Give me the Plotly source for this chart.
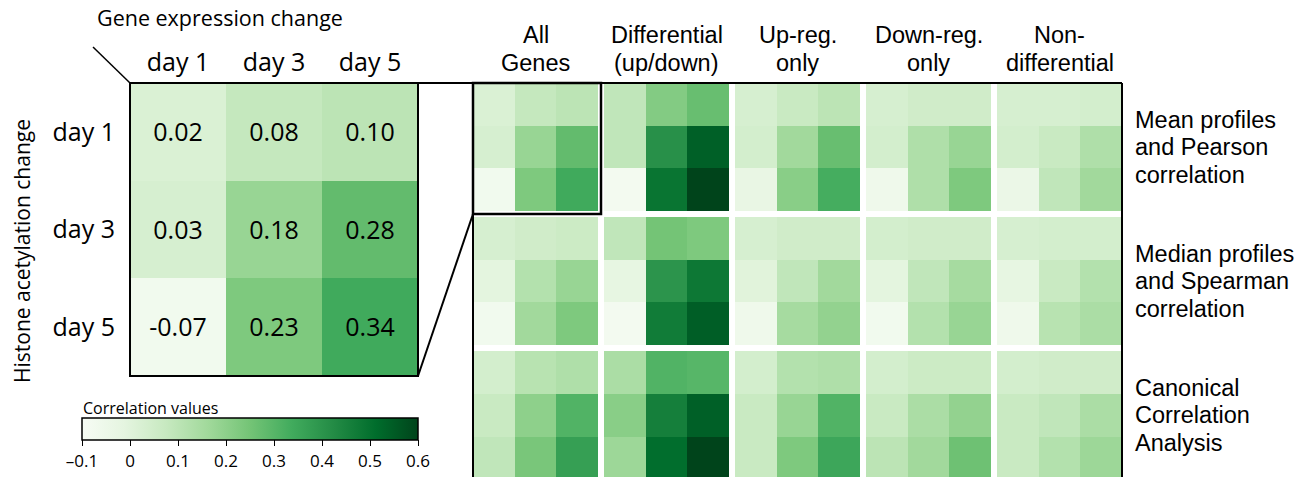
import plotly.graph_objects as go

W, H = 1306, 477

# ---------------- data ----------------
days = ["day 1", "day 3", "day 5"]
inset_values = [[0.02, 0.08, 0.10],
                [0.03, 0.18, 0.28],
                [-0.07, 0.23, 0.34]]
inset_text = [["0.02", "0.08", "0.10"],
              ["0.03", "0.18", "0.28"],
              ["-0.07", "0.23", "0.34"]]

gene_sets = [["All", "Genes"], ["Differential", "(up/down)"], ["Up-reg.", "only"],
             ["Down-reg.", "only"], ["Non-", "differential"]]
methods = [["Mean profiles", "and Pearson", "correlation"],
           ["Median profiles", "and Spearman", "correlation"],
           ["Canonical", "Correlation", "Analysis"]]

mean_pearson = [
    [[0.02, 0.08, 0.10], [0.03, 0.18, 0.28], [-0.07, 0.23, 0.34]],
    [[0.09, 0.22, 0.27], [0.09, 0.41, 0.54], [-0.08, 0.49, 0.60]],
    [[0.03, 0.07, 0.10], [0.04, 0.16, 0.27], [-0.03, 0.21, 0.33]],
    [[0.03, 0.05, 0.05], [0.04, 0.13, 0.18], [-0.06, 0.13, 0.23]],
    [[0.03, 0.03, 0.04], [0.04, 0.07, 0.13], [-0.04, 0.09, 0.16]],
]
median_spearman = [
    [[0.03, 0.05, 0.06], [-0.01, 0.12, 0.18], [-0.07, 0.16, 0.23]],
    [[0.09, 0.25, 0.23], [-0.02, 0.40, 0.48], [-0.08, 0.47, 0.545]],
    [[0.03, 0.05, 0.05], [0.00, 0.09, 0.16], [-0.06, 0.15, 0.19]],
    [[0.04, 0.05, 0.05], [-0.01, 0.09, 0.15], [-0.07, 0.12, 0.18]],
    [[0.03, 0.04, 0.04], [-0.02, 0.07, 0.12], [-0.06, 0.11, 0.14]],
]
cca = [
    [[0.04, 0.11, 0.13], [0.07, 0.20, 0.31], [0.09, 0.24, 0.37]],
    [[0.14, 0.31, 0.30], [0.21, 0.46, 0.54], [0.17, 0.51, 0.60]],
    [[0.04, 0.12, 0.13], [0.07, 0.18, 0.31], [0.07, 0.23, 0.35]],
    [[0.04, 0.06, 0.06], [0.07, 0.14, 0.19], [0.10, 0.16, 0.26]],
    [[0.04, 0.05, 0.05], [0.07, 0.09, 0.14], [0.07, 0.12, 0.17]],
]

cbar_ticks = [-0.1, 0, 0.1, 0.2, 0.3, 0.4, 0.5, 0.6]
cbar_ticktext = ["\u20130.1", "0", "0.1", "0.2", "0.3", "0.4", "0.5", "0.6"]

greens = ["#f7fcf5", "#e5f5e0", "#c7e9c0", "#a1d99b", "#74c476",
          "#41ab5d", "#238b45", "#006d2c", "#00441b"]
colorscale = [[i / (len(greens) - 1), c] for i, c in enumerate(greens)]

# ---------------- layout helpers ----------------
def px(x):
    return x / W

def py(y):
    return 1 - y / H

LEFT_FONT = "Open Sans"
RIGHT_FONT = "Liberation Sans, Arial"
RIGHT_SIZE = 23.5

# big grid geometry (data units: 1 cell, gap G)
GX = 0.144
GY = 0.14
blocks = [mean_pearson, median_spearman, cca]

x_edges = []
for g in range(5):
    base = g * (3 + GX)
    x_edges += [base, base + 1, base + 2]
    if g < 4:
        x_edges.append(base + 3)
x_edges.append(4 * (3 + GX) + 3)

y_edges = []
for r in range(3):
    base = r * (3 + GY)
    y_edges += [base, base + 1, base + 2]
    if r < 2:
        y_edges.append(base + 3)
y_edges.append(2 * (3 + GY) + 3)

z_grid = []
for r, method_blocks in enumerate(blocks):
    for i in range(3):
        row = []
        for g in range(5):
            row += method_blocks[g][i]
            if g < 4:
                row.append(None)
        z_grid.append(row)
    if r < 2:
        z_grid.append([None] * 19)

fig = go.Figure()

fig.add_trace(go.Heatmap(
    z=inset_values, x=[0, 1, 2], y=[0, 1, 2], text=inset_text,
    texttemplate="%{text}", textfont=dict(family=LEFT_FONT, size=25, color="black"),
    coloraxis="coloraxis", xaxis="x", yaxis="y", hoverinfo="skip",
))

fig.add_trace(go.Heatmap(
    z=z_grid, x=x_edges, y=y_edges,
    coloraxis="coloraxis", xaxis="x2", yaxis="y2", hoverinfo="skip",
))

grid_left, grid_right, grid_top = 473, 1122, 83
cell_h = 42.7
y2_max = (H - grid_top) / cell_h

fig.update_layout(
    width=W, height=H,
    margin=dict(l=0, r=0, t=0, b=0),
    paper_bgcolor="white", plot_bgcolor="white",
    showlegend=False,
    coloraxis=dict(
        colorscale=colorscale, cmin=-0.1, cmax=0.6,
        colorbar=dict(
            orientation="h", x=px(250), xanchor="center",
            y=py(418), yanchor="top",
            len=336, lenmode="pixels", thickness=22, thicknessmode="pixels",
            outlinewidth=1.5, outlinecolor="black",
            ticks="outside", ticklen=6, tickcolor="black", tickwidth=1.2,
            tickvals=cbar_ticks, ticktext=cbar_ticktext,
            tickfont=dict(family=LEFT_FONT, size=17, color="black"),
            xpad=0, ypad=0, borderwidth=0,
        ),
    ),
    xaxis=dict(domain=[px(130), px(418)], range=[-0.5, 2.5], side="top",
               tickvals=[0, 1, 2], ticktext=days, ticks="", showgrid=False,
               zeroline=False, showline=False,
               tickfont=dict(family=LEFT_FONT, size=25, color="black"),
               ticklabelstandoff=6, fixedrange=True),
    yaxis=dict(domain=[py(376), py(83)], range=[2.5, -0.5],
               tickvals=[0, 1, 2], ticktext=days, ticks="", showgrid=False,
               zeroline=False, showline=False,
               tickfont=dict(family=LEFT_FONT, size=25, color="black"),
               ticklabelstandoff=14, fixedrange=True),
    xaxis2=dict(domain=[px(grid_left), px(grid_right)], range=[0, x_edges[-1]],
                anchor="y2", showticklabels=False, ticks="", showgrid=False,
                zeroline=False, showline=False, fixedrange=True),
    yaxis2=dict(domain=[0, py(grid_top)], range=[y2_max, 0],
                anchor="x2", showticklabels=False, ticks="", showgrid=False,
                zeroline=False, showline=False, fixedrange=True),
)

annotations = []
# column headers of big grid (one annotation per text line)
header_line_y = [35, 63]
for g, lines in enumerate(gene_sets):
    for k, txt in enumerate(lines):
        annotations.append(dict(
            x=g * (3 + GX) + 1.5, xref="x2", y=py(header_line_y[k]), yref="paper",
            text=txt, showarrow=False, xanchor="center", yanchor="middle",
            font=dict(family=RIGHT_FONT, size=RIGHT_SIZE, color="black"),
        ))
# row headers of big grid
line_step = 27.5
for r, lines in enumerate(methods):
    for k, txt in enumerate(lines):
        annotations.append(dict(
            x=px(1133), xref="paper", y=r * (3 + GY) + 1.5 + (k - 1) * line_step / cell_h,
            yref="y2", text=txt, showarrow=False, xanchor="left", yanchor="middle",
            font=dict(family=RIGHT_FONT, size=RIGHT_SIZE, color="black"),
        ))
annotations.append(dict(
    x=px(220), y=py(18), xref="paper", yref="paper", text="Gene expression change",
    showarrow=False, xanchor="center", yanchor="middle",
    font=dict(family=LEFT_FONT, size=21.5, color="black"),
))
annotations.append(dict(
    x=px(22), y=py(251), xref="paper", yref="paper", text="Histone acetylation change",
    showarrow=False, xanchor="center", yanchor="middle", textangle=-90,
    font=dict(family=LEFT_FONT, size=21, color="black"),
))
annotations.append(dict(
    x=px(81), y=py(408), xref="paper", yref="paper", text="Correlation values",
    showarrow=False, xanchor="left", yanchor="middle",
    font=dict(family=LEFT_FONT, size=16, color="black"),
))
fig.update_layout(annotations=annotations)

line = dict(color="black", width=2)
shapes = [
    dict(type="line", xref="paper", yref="paper", x0=px(93), y0=py(47), x1=px(130), y1=py(83), line=dict(color="black", width=1.5)),
    dict(type="rect", xref="paper", yref="paper", x0=px(130), y0=py(376), x1=px(418), y1=py(83), line=line),
    dict(type="line", xref="paper", yref="paper", x0=px(418), y0=py(83), x1=px(grid_right), y1=py(83), line=line),
    dict(type="line", xref="paper", yref="paper", x0=px(418), y0=py(376), x1=px(grid_left), y1=py(214), line=line),
    dict(type="line", xref="paper", yref="paper", x0=px(grid_left), y0=py(83), x1=px(grid_left), y1=0, line=line),
    dict(type="line", xref="paper", yref="paper", x0=px(grid_right), y0=py(83), x1=px(grid_right), y1=0, line=line),
    dict(type="rect", xref="paper", yref="paper", x0=px(grid_left), y0=py(214), x1=px(601), y1=py(83), line=dict(color="black", width=2.5)),
]
fig.update_layout(shapes=shapes)

fig.write_html("out.html", config={"displayModeBar": False},
               post_script="document.body.style.margin='0px';")
